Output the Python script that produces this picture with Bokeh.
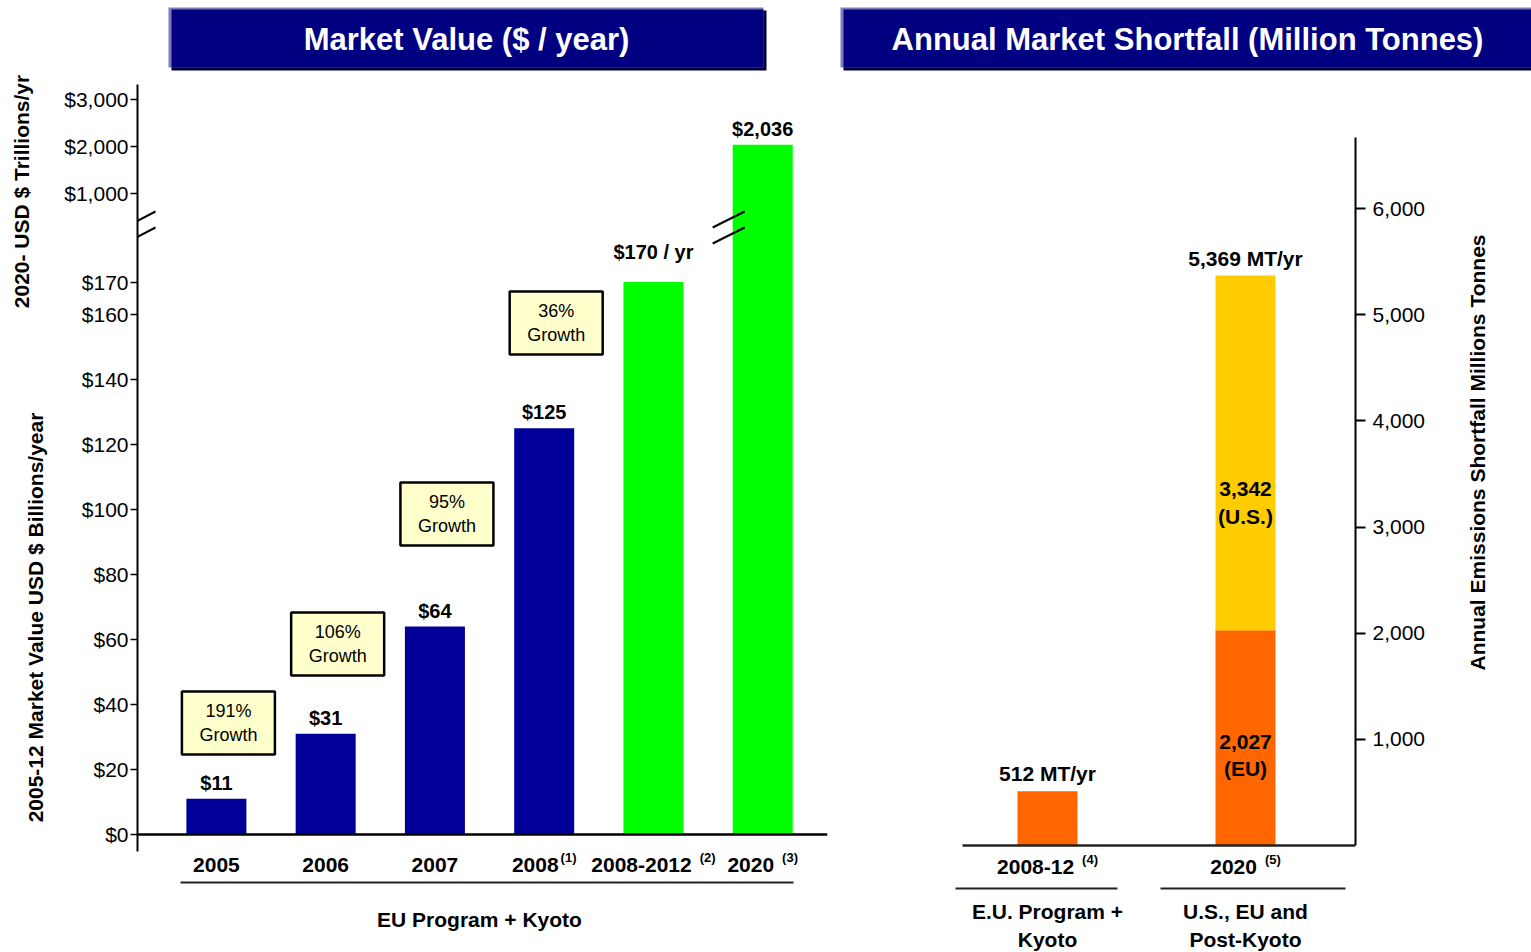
import math
from bokeh.plotting import figure
from bokeh.models import Range1d, FixedTicker, Arrow, NumeralTickFormatter, ColumnDataSource, Span
from bokeh.layouts import row, column
from bokeh.embed import file_html
from bokeh.resources import INLINE
from bokeh.core.properties import value

# ---------------- data ----------------
market_categories = ["2005", "2006", "2007", "2008", "2008-2012", "2020"]
market_footnotes = ["", "", "", "(1)", " (2)", " (3)"]
market_values = [11, 31, 64, 125, 170, 2036]
market_on_trillion_axis = [False, False, False, False, False, True]
market_label_suffix = ["", "", "", "", " / yr", ""]
growth_labels = ["191%", "106%", "95%", "36%"]
billion_ticks = [0, 20, 40, 60, 80, 100, 120, 140, 160, 170]
trillion_ticks = [1000, 2000, 3000]
market_group = "EU Program + Kyoto"
market_title = "Market Value ($ / year)"
market_axis_upper = "2020- USD $ Trillions/yr"
market_axis_lower = "2005-12 Market Value USD $ Billions/year"

shortfall_categories = ["2008-12", "2020"]
shortfall_footnotes = [" (4)", " (5)"]
shortfall_eu = [512, 2027]
shortfall_us = [0, 3342]
shortfall_names = ["EU", "U.S."]
shortfall_groups = ["E.U. Program +\nKyoto", "U.S., EU and\nPost-Kyoto"]
shortfall_ticks = [1000, 2000, 3000, 4000, 5000, 6000]
shortfall_title = "Annual Market Shortfall (Million Tonnes)"
shortfall_axis = "Annual Emissions Shortfall Millions Tonnes"

# ---------------- style / layout ----------------
FONT = value("Liberation Sans")
BLUE, GREEN, ORANGE, GOLD = "#000099", "#00FF00", "#FF6600", "#FFCC00"
BOLD_W = {"-": 0.333, " ": 0.278, "(": 0.333, ")": 0.333}


def text_width(s, size):
    return sum(BOLD_W.get(ch, 0.556) for ch in s) * size


def clean(p):
    p.grid.grid_line_color = None
    p.outline_line_color = None
    p.background_fill_color = "white"
    p.border_fill_color = "white"


def category_labels(p, xs, mains, notes, dy):
    xo_main, xo_sup, sups, xs_sup = [], [], [], []
    for x, m, n in zip(xs, mains, notes):
        w = text_width(m, 21)
        s = n.strip()
        ws = text_width(s, 13) if s else 0
        gap = (2 + (6 if n.startswith(" ") else 0)) if s else 0
        total = w + gap + ws
        xo_main.append(-total / 2 + w / 2)
        if s:
            xs_sup.append(x)
            sups.append(s)
            xo_sup.append(-total / 2 + w + gap)
    p.text(x=xs, y=[0] * len(xs), x_offset=xo_main, y_offset=dy, text=mains,
           text_font=FONT, text_font_style="bold", text_font_size="21px", text_color="black",
           text_align="center", text_baseline="middle")
    p.text(x=xs_sup, y=[0] * len(xs_sup), x_offset=xo_sup, y_offset=dy - 7, text=sups,
           text_font=FONT, text_font_style="bold", text_font_size="13px", text_color="black",
           text_align="left", text_baseline="middle")


# ---------- banner strip ----------
banner = figure(width=1531, height=72, x_range=Range1d(0, 1531), y_range=Range1d(72, 0),
                x_axis_location=None, y_axis_location=None, min_border=0,
                toolbar_location=None, output_backend="svg")
clean(banner)
for (l, r, txt, cx) in [(168, 763, market_title, 466), (840, 1545, shortfall_title, 1187)]:
    banner.quad(left=l + 3, right=r + 3, top=10, bottom=70, fill_color="#000038", line_color=None)
    banner.quad(left=l, right=r, top=7, bottom=67, fill_color="#7C7CC0", line_color=None)
    banner.quad(left=l + 3, right=r, top=9, bottom=67, fill_color="#000080", line_color=None)
    banner.text(x=[cx], y=[39], text=[txt], text_color="white", text_font=FONT,
                text_font_style="bold", text_font_size="31px",
                text_align="center", text_baseline="middle")

H = 880  # height of the lower row (page y 72..952)

# ---------- left axis titles ----------
titles = figure(width=53, height=H, x_range=Range1d(0, 53), y_range=Range1d(0, H),
                x_axis_location=None, y_axis_location=None, min_border=0,
                toolbar_location=None, output_backend="svg")
clean(titles)
titles.text(x=[21, 35], y=[952 - 191, 952 - 617], text=[market_axis_upper, market_axis_lower],
            angle=math.pi / 2, text_font=FONT, text_font_style="bold", text_font_size="21px",
            text_align="center", text_baseline="middle", text_color="black")

# ---------- left panel (market value) ----------
PXB = 3.25          # pixels per $B
BASE = 834          # zero line (page px)
TOP = 72
TR_PX = 0.047       # pixels per $T unit on the upper (broken) section


def tr_disp(v):
    return round((BASE - 193) / PXB + (v - 1000) * TR_PX / PXB, 2)


slot = 109.26
x_start = -(215.9 - 137) / slot
x_end = x_start + (827 - 137) / slot
left = figure(width=782, height=H, x_range=Range1d(x_start, x_end),
              y_range=Range1d(-(952 - BASE) / PXB, (BASE - TOP) / PXB),
              x_axis_location=None,
              min_border_left=84, min_border_right=8, min_border_top=0, min_border_bottom=0,
              toolbar_location=None, output_backend="svg")
clean(left)
left.extra_x_ranges = {"px": Range1d(137, 827)}
left.extra_y_ranges = {"px": Range1d(952, TOP)}

xs = list(range(len(market_categories)))
tops = [tr_disp(v) if t else v for v, t in zip(market_values, market_on_trillion_axis)]
bar_colors = [GREEN if (s or t) else BLUE for s, t in zip(market_label_suffix, market_on_trillion_axis)]
left.vbar(x=xs, top=tops, bottom=0, width=60 / slot, fill_color=bar_colors, line_color=None)
left.add_layout(Span(location=0, dimension="width", line_width=2.5, line_color="black"))

lift = [-5, -5, -5, -5, -19, -5]
left.text(x=xs, y=tops, y_offset=lift,
          text=[f"${v:,}{s}" for v, s in zip(market_values, market_label_suffix)],
          text_font=FONT, text_font_style="bold", text_font_size="20px", text_color="black",
          text_align="center", text_baseline="bottom")

gx = [i + 12 / slot for i in range(len(growth_labels))]
gy = [34.3, 58.6, 98.6, 157.4]
left.rect(x=gx, y=gy, width=93, height=63, width_units="screen", height_units="screen",
          fill_color="#FFFFCC", line_color="black", line_width=2.5)
left.text(x=gx, y=gy, text=[f"{g}\nGrowth" for g in growth_labels], text_font=FONT,
          text_font_size="18px", text_color="black", text_align="center", text_baseline="middle",
          text_line_height=1.2)

# axis break marks
bar_px = 137 + (xs[-1] - x_start) * slot
for (x0, y0, x1, y1) in [(124, 227, 155, 211), (124, 243, 155, 227),
                         (bar_px - 50, 227, bar_px - 18, 211), (bar_px - 50, 243, bar_px - 18, 227)]:
    left.add_layout(Arrow(end=None, x_start=x0, y_start=y0, x_end=x1, y_end=y1,
                          x_range_name="px", y_range_name="px", line_width=2, line_color="black"))

category_labels(left, xs, market_categories, market_footnotes, 30)
left.segment(x0=[180], y0=[882], x1=[793], y1=[882], x_range_name="px", y_range_name="px",
             line_width=2, line_color="#222222")
left.text(x=[479], y=[919], text=[market_group], x_range_name="px", y_range_name="px",
          text_font=FONT, text_font_style="bold", text_font_size="21px", text_color="black",
          text_align="center", text_baseline="middle")

ya = left.yaxis[0]
ya.ticker = FixedTicker(ticks=billion_ticks + [tr_disp(t) for t in trillion_ticks], minor_ticks=[])
ov = {t: f"${t:,}" for t in billion_ticks}
ov.update({tr_disp(t): f"${t:,}" for t in trillion_ticks})
ya.major_label_overrides = ov
ya.bounds = (-(851 - BASE) / PXB, (BASE - 84) / PXB)
ya.axis_line_width = 2
ya.axis_line_color = "black"
ya.major_tick_out = 7
ya.major_tick_in = 0
ya.major_tick_line_width = 1.5
ya.major_tick_line_color = "black"
ya.minor_tick_line_color = None
ya.major_label_standoff = 2
ya.major_label_text_font = "Liberation Sans"
ya.major_label_text_font_size = "21px"
ya.major_label_text_color = "black"

# ---------- right panel (shortfall) ----------
RS = 0.10616        # pixels per million tonnes
RBASE = 845
rslot = 198
rx_start = -(1047 - 835) / rslot
rx_end = rx_start + (1355 - 835) / rslot
right = figure(width=620, height=H, x_range=Range1d(rx_start, rx_end),
               y_range=Range1d(-(952 - RBASE) / RS, (RBASE - TOP) / RS),
               x_axis_location=None, y_axis_location="right",
               min_border_left=0, min_border_right=100, min_border_top=0, min_border_bottom=0,
               toolbar_location=None, output_backend="svg")
clean(right)
right.extra_x_ranges = {"px": Range1d(835, 1355)}
right.extra_y_ranges = {"px": Range1d(952, TOP)}

rx = list(range(len(shortfall_categories)))
src = ColumnDataSource(dict(x=rx, eu=shortfall_eu, us=shortfall_us))
right.vbar_stack(["eu", "us"], x="x", width=60 / rslot, fill_color=[ORANGE, GOLD],
                 line_color=None, source=src)

totals = [e + u for e, u in zip(shortfall_eu, shortfall_us)]
right.text(x=rx, y=totals, y_offset=-6, text=[f"{t:,} MT/yr" for t in totals],
           text_font=FONT, text_font_style="bold", text_font_size="21px", text_color="black",
           text_align="center", text_baseline="bottom")

in_x, in_y, in_t = [], [], []
for i, (e, u) in enumerate(zip(shortfall_eu, shortfall_us)):
    if u > 0:
        in_x += [i, i]
        in_y += [e * 0.42, e + u * 0.36]
        in_t += [f"{e:,}\n({shortfall_names[0]})", f"{u:,}\n({shortfall_names[1]})"]
right.text(x=in_x, y=in_y, text=in_t, text_font=FONT, text_font_style="bold",
           text_font_size="21px", text_color="black", text_align="center",
           text_baseline="middle", text_line_height=1.2)

right.segment(x0=[962], y0=[0], x1=[1355], y1=[0], x_range_name="px",
              line_width=2.5, line_color="#222222")
category_labels(right, rx, shortfall_categories, shortfall_footnotes, 21)
right.segment(x0=[955, 1160], y0=[888, 888], x1=[1117, 1345], y1=[888, 888],
              x_range_name="px", y_range_name="px", line_width=2, line_color="#222222")
right.text(x=rx, y=[925] * len(rx), y_range_name="px", text=shortfall_groups,
           text_font=FONT, text_font_style="bold", text_font_size="21px", text_color="black",
           text_align="center", text_baseline="middle", text_line_height=1.2)

ra = right.yaxis[0]
ra.ticker = FixedTicker(ticks=shortfall_ticks, minor_ticks=[])
ra.formatter = NumeralTickFormatter(format="0,0")
ra.bounds = (0, (RBASE - 137) / RS)
ra.axis_line_width = 2
ra.axis_line_color = "black"
ra.major_tick_out = 10
ra.major_tick_in = 0
ra.major_tick_line_width = 2
ra.major_tick_line_color = "black"
ra.minor_tick_line_color = None
ra.major_label_standoff = 7
ra.major_label_text_font = "Liberation Sans"
ra.major_label_text_font_size = "21px"
ra.major_label_text_color = "black"

# ---------- right axis title ----------
rlabel = figure(width=76, height=H, x_range=Range1d(1455, 1531), y_range=Range1d(0, H),
                x_axis_location=None, y_axis_location=None, min_border=0,
                toolbar_location=None, output_backend="svg")
clean(rlabel)
rlabel.text(x=[1477], y=[952 - 452], text=[shortfall_axis], angle=math.pi / 2,
            text_font=FONT, text_font_style="bold", text_font_size="21px", text_color="black",
            text_align="center", text_baseline="middle")

layout = column(banner, row(titles, left, right, rlabel))
open("out.html", "w").write(file_html(layout, INLINE))
